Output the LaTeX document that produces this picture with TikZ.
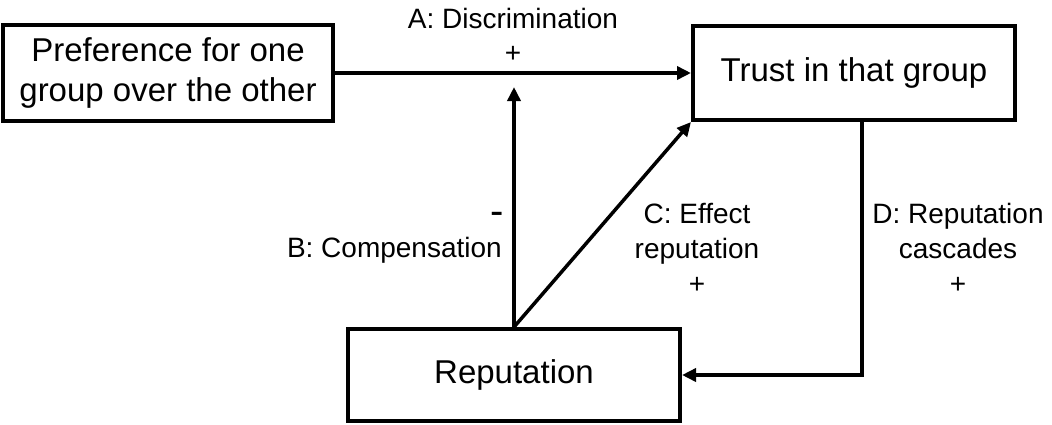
\documentclass[tikz,border=0pt]{standalone}
\usepackage{fontspec}
\setmainfont{Liberation Sans}
\usetikzlibrary{arrows.meta}
\begin{document}
\begin{tikzpicture}[x=1pt,y=-1pt,
  box/.style={draw, line width=4pt, inner sep=0pt, align=center,
              font=\fontsize{33}{40}\selectfont},
  conn/.style={line width=3.5pt, -{Triangle[length=14pt,width=13pt]}},
  lab/.style={inner sep=0pt, align=center, font=\fontsize{28}{35}\selectfont}]
\useasboundingbox (0,0) rectangle (1052,424);

% boxes
\node[box, minimum width=330pt, minimum height=96pt] (pref) at (168,73)
  {Preference for one\\group over the other};
\node[box, minimum width=322pt, minimum height=94pt] (trust) at (854,73)
  {Trust in that group};
\node[box, minimum width=332pt, minimum height=92pt] (rep) at (514,375)
  {Reputation};

% helper points
\coordinate (btip) at (514,87);
\coordinate (dx) at (862,377);

% connectors
\draw[conn] (pref.east) -- (pref.east -| trust.west);
\draw[conn] (rep.north) -- (btip);
\draw[conn] (rep.north) -- (trust.south west);
\draw[conn] (trust.south -| dx) |- (rep.east);

% labels
\node[lab] (la) at (513,18) {A: Discrimination};
\node[lab] (lap) at (513,54) {+};
\node[lab, font=\fontsize{40}{40}\selectfont] (lbm) at (497,218) {-};
\node[lab, anchor=east] (lb) at (502,250) {B: Compensation};
\node[lab] (lc) at (697,248) {C: Effect\\reputation\\+};
\node[lab] (ld) at (958,248) {D: Reputation\\cascades\\+};
\end{tikzpicture}
\end{document}
